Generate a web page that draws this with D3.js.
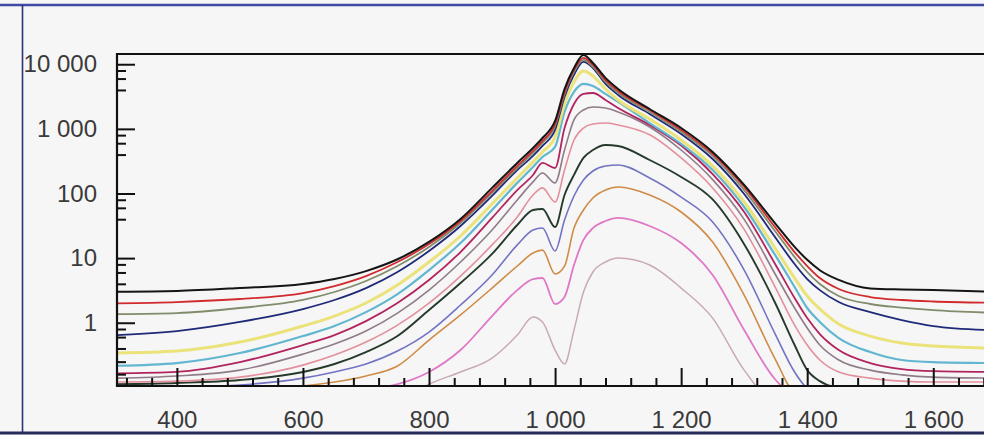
<!DOCTYPE html>
<html>
<head>
<meta charset="utf-8">
<script src="https://cdn.jsdelivr.net/npm/d3@7"></script>
<style>
  html, body { margin: 0; padding: 0; background: #f6f6f6; }
  svg { display: block; }
</style>
</head>
<body>
<svg id="chart" width="984" height="435"></svg>
<script>
// Wavelength grid (nm) shared by every spectrum
const wavelength = [305, 400, 500, 600, 650, 700, 750, 800, 850, 900, 940, 965, 980, 1000, 1015, 1030, 1045, 1060, 1080, 1100, 1150, 1200, 1250, 1300, 1350, 1380, 1400, 1420, 1450, 1500, 1550, 1600, 1690];

// Spectral intensity per trace, highest power first
const traceBlack   = [3.02, 3.1, 3.45, 3.97, 4.75, 6.3, 9.6, 17.8, 40.3, 122, 297, 506, 722, 1325, 4140, 8750, 13900, 10470, 6140, 4140, 2030, 1030, 439, 136, 33.7, 14.9, 9.4, 6.5, 4.6, 3.4, 3.27, 3.2, 3.04];
const traceRed     = [2.0, 2.09, 2.33, 2.88, 3.7, 5.28, 8.7, 16.5, 37.5, 109, 267, 455, 650, 1190, 3720, 8170, 12530, 9770, 5720, 3860, 1960, 962, 409, 126, 29.2, 12.4, 7.55, 4.92, 3.33, 2.5, 2.25, 2.13, 2.04];
const traceOlive   = [1.36, 1.41, 1.69, 2.25, 2.99, 4.42, 7.55, 14.9, 34.9, 102, 248, 424, 605, 1110, 3470, 7600, 11660, 9080, 5320, 3590, 1830, 896, 381, 113, 25.4, 10.4, 6.1, 3.97, 2.59, 1.95, 1.72, 1.57, 1.43];
const traceNavy    = [0.645, 0.744, 1.03, 1.63, 2.25, 3.44, 6.1, 12.9, 31.4, 91.5, 231, 381, 545, 962, 3120, 6840, 10860, 8750, 4950, 3350, 1700, 834, 342, 98.2, 20.5, 8.1, 4.74, 3.2, 2.09, 1.46, 1.1, 0.889, 0.77];
const traceYellow  = [0.34, 0.365, 0.502, 0.889, 1.27, 2.02, 3.84, 8.7, 22.0, 68.8, 174, 308, 439, 748, 2430, 5320, 7870, 6590, 4140, 2800, 1420, 673, 267, 73.8, 13.8, 4.92, 2.59, 1.63, 0.955, 0.622, 0.485, 0.436, 0.406];
const traceCyan    = [0.216, 0.238, 0.34, 0.622, 0.889, 1.46, 2.78, 6.54, 17.1, 55.6, 146, 257, 367, 525, 1830, 3720, 4950, 4610, 3470, 2610, 1230, 584, 231, 61.8, 10.8, 3.57, 1.69, 1.03, 0.58, 0.352, 0.265, 0.246, 0.238];
const traceCrimson = [0.165, 0.174, 0.246, 0.452, 0.645, 1.06, 2.02, 4.58, 12.4, 41.8, 113, 193, 297, 248, 1030, 2430, 3470, 3590, 2800, 2100, 1150, 552, 200, 51.7, 7.82, 2.41, 1.18, 0.668, 0.378, 0.238, 0.192, 0.179, 0.174];
const traceMauve   = [0.139, 0.15, 0.185, 0.327, 0.468, 0.744, 1.41, 3.2, 8.7, 27.2, 79.4, 151, 208, 146, 471, 1380, 1960, 2180, 2100, 1830, 1070, 471, 164, 39.8, 5.48, 1.69, 0.83, 0.452, 0.265, 0.185, 0.156, 0.144, 0.139];
const tracePink    = [0.121, 0.125, 0.144, 0.221, 0.316, 0.502, 0.92, 2.02, 5.28, 16.0, 43.3, 94.8, 122, 73.8, 231, 673, 1030, 1190, 1230, 1150, 810, 355, 122, 27.9, 3.44, 0.92, 0.452, 0.265, 0.173, 0.139, 0.125, 0.121, 0.121];
const traceDark    = [0.112, 0.117, 0.13, 0.173, 0.23, 0.352, 0.622, 1.57, 4.12, 11.6, 32.5, 55.6, 57.6, 30.3, 94.8, 194, 355, 471, 563, 543, 330, 180, 80.8, 16.4, 1.95, 0.452, 0.185, 0.125, 0.098, 0.09, 0.09, 0.09, 0.09];
const traceBlue    = [0.098, 0.101, 0.109, 0.139, 0.173, 0.23, 0.365, 0.718, 1.88, 5.48, 16.0, 27.2, 29.2, 12.9, 38.9, 91.5, 162, 223, 267, 276, 174, 88, 36.3, 6.54, 0.645, 0.173, 0.098, 0.085, 0.085, 0.085, 0.085, 0.085, 0.085];
const traceOrange  = [0.085, 0.088, 0.092, 0.105, 0.121, 0.15, 0.214, 0.54, 1.32, 3.44, 7.55, 12.0, 13.3, 5.67, 7.5, 29.2, 55.6, 85.2, 113, 126, 94.8, 51.7, 17.7, 2.68, 0.265, 0.085, 0.08, 0.08, 0.08, 0.08, 0.08, 0.08, 0.08];
const traceMagenta = [0.076, 0.076, 0.076, 0.08, 0.088, 0.094, 0.112, 0.173, 0.378, 1.27, 3.2, 4.74, 4.92, 1.95, 2.5, 7.82, 19.1, 29.2, 37.5, 41.8, 31.4, 17.1, 5.48, 0.77, 0.13, 0.076, 0.076, 0.076, 0.076, 0.076, 0.076, 0.076, 0.076];
const traceLilac   = [0.06, 0.06, 0.06, 0.06, 0.06, 0.06, 0.06, 0.112, 0.173, 0.284, 0.645, 1.23, 1.03, 0.378, 0.23, 0.77, 2.99, 6.1, 8.7, 10.0, 7.82, 3.44, 1.18, 0.185, 0.06, 0.06, 0.06, 0.06, 0.06, 0.06, 0.06, 0.06, 0.06];

const traces = [traceBlack, traceRed, traceOlive, traceNavy, traceYellow, traceCyan, traceCrimson,
                traceMauve, tracePink, traceDark, traceBlue, traceOrange, traceMagenta, traceLilac];
const traceColors = ["#151515", "#d12b2f", "#808c6c", "#1f2a78", "#ebe37a", "#62b6d0", "#b2245f",
                     "#8f7c88", "#e3909c", "#263a2c", "#7373c4", "#d08b47", "#df78c6", "#c9a9b8"];
const traceWidths = [2, 1.8, 1.8, 1.8, 3, 2.2, 1.8, 1.6, 1.6, 1.9, 1.6, 1.6, 1.8, 1.5];

// Axis ticks
const xTickValues = [400, 600, 800, 1000, 1200, 1400, 1600];
const xMinorTicks = d3.range(320, 1690, 40).filter(v => !xTickValues.includes(v));
const yTickValues = [1, 10, 100, 1000, 10000];
const yMinorTicks = [0.8, 0.6, 0.4, 0.25, 0.16, 8, 6, 4, 80, 60, 40, 800, 600, 400, 8000, 6000, 4000];

const svg = d3.select("#chart");
const plot = { left: 117, top: 54, right: 990, bottom: 386 };

const x = d3.scaleLinear().domain([305, 1690]).range([plot.left, plot.right]);
const y = d3.scaleLog().domain([0.105, 14400]).range([plot.bottom, plot.top]);

// Outer frame
svg.append("rect").attr("width", 984).attr("height", 435).attr("fill", "#f6f6f6");
svg.append("line").attr("x1", 0).attr("x2", 984).attr("y1", 5).attr("y2", 5)
  .attr("stroke", "#3d4ba6").attr("stroke-width", 2.5);
svg.append("line").attr("x1", 0).attr("x2", 984).attr("y1", 433).attr("y2", 433)
  .attr("stroke", "#262b5c").attr("stroke-width", 3);
svg.append("line").attr("x1", 22.5).attr("x2", 22.5).attr("y1", 5).attr("y2", 433)
  .attr("stroke", "#2b3375").attr("stroke-width", 1.6);

// Clip for traces
svg.append("clipPath").attr("id", "plot-clip")
  .append("rect").attr("x", plot.left).attr("y", plot.top)
  .attr("width", plot.right - plot.left).attr("height", plot.bottom - plot.top);

const line = d3.line()
  .x((d, i) => x(wavelength[i]))
  .y(d => y(d))
  .curve(d3.curveMonotoneX);

const traceGroup = svg.append("g").attr("clip-path", "url(#plot-clip)");
// draw the lowest power trace first so the strongest sits on top
for (let k = traces.length - 1; k >= 0; k--) {
  traceGroup.append("path")
    .attr("d", line(traces[k]))
    .attr("fill", "none")
    .attr("stroke", traceColors[k])
    .attr("stroke-width", traceWidths[k])
    .attr("stroke-linejoin", "round");
}

const fmt = d3.formatLocale({ decimal: ".", thousands: "\u00a0", grouping: [3], currency: ["", ""] }).format(",");

function styleAxis(g) {
  g.select(".domain").remove();
  g.selectAll(".tick line").attr("stroke", "#111").attr("stroke-width", 2);
  g.selectAll(".tick text")
    .attr("fill", "#3a3a3a")
    .style("font-family", "'Liberation Sans', Arial, sans-serif")
    .style("font-size", "24px");
}

// Y axis: major and minor ticks point into the plot
svg.append("g").attr("transform", `translate(${plot.left},0)`)
  .call(d3.axisLeft(y).tickValues(yMinorTicks).tickSize(-9).tickFormat(""))
  .call(styleAxis);
svg.append("g").attr("transform", `translate(${plot.left},0)`)
  .call(d3.axisLeft(y).tickValues(yTickValues).tickSize(-18).tickPadding(20).tickFormat(fmt))
  .call(styleAxis);

// X axis
svg.append("g").attr("transform", `translate(0,${plot.bottom})`)
  .call(d3.axisBottom(x).tickValues(xMinorTicks).tickSize(-8).tickFormat(""))
  .call(styleAxis);
svg.append("g").attr("transform", `translate(0,${plot.bottom})`)
  .call(d3.axisBottom(x).tickValues(xTickValues).tickSize(-18).tickPadding(25).tickFormat(fmt))
  .call(styleAxis);

// Plot frame (right edge runs past the page)
svg.append("path")
  .attr("d", `M${plot.right},${plot.top}H${plot.left}V${plot.bottom}H${plot.right}`)
  .attr("fill", "none").attr("stroke", "#111").attr("stroke-width", 2.2);
</script>
</body>
</html>
